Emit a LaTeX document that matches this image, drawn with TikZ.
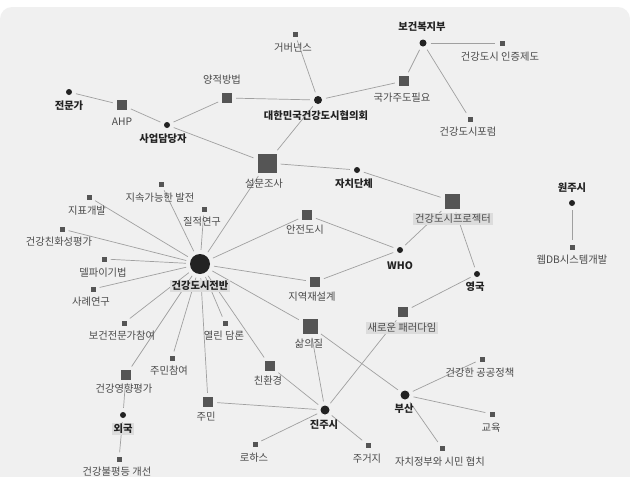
\documentclass[tikz,border=0pt]{standalone}
\usepackage{fontspec}
\setmainfont{Noto Sans CJK KR}
\pgfdeclarelayer{background}
\pgfsetlayers{background,main}
\definecolor{bgc}{HTML}{F0F0F0}
\definecolor{sqc}{HTML}{555555}
\definecolor{dotc}{HTML}{222222}
\definecolor{edgec}{HTML}{A0A0A0}
\definecolor{labc}{HTML}{4A4A4A}
\definecolor{blabc}{HTML}{222222}
\definecolor{hlc}{HTML}{DCDCDC}
\tikzset{
  sq/.style={rectangle,fill=sqc,inner sep=0pt,minimum size=#1},
  dt/.style={circle,fill=dotc,inner sep=0pt,minimum size=#1},
  lab/.style={font=\fontsize{10.3}{11}\selectfont,text=labc,inner sep=1pt},
  blab/.style={font=\fontsize{10.3}{11}\selectfont\bfseries,text=blabc,inner sep=1pt},
  hl/.style={fill=hlc,inner xsep=2pt,inner ysep=1.5pt},
  edge/.style={draw=edgec,line width=0.7pt,shorten >=4pt,shorten <=4pt},
}
\begin{document}
\begin{tikzpicture}[x=1pt,y=-1pt]
\useasboundingbox (0,0) rectangle (630,477);
% nodes
\node[dt=6] (jeonmunga) at (69,92) {};
\node[blab] (jeonmungaL) at (69,106) {전문가};
\node[sq=10] (ahp) at (122,105) {};
\node[lab] (ahpL) at (122,122) {AHP};
\node[dt=6] (saeop) at (167,125) {};
\node[blab] (saeopL) at (163,139) {사업담당자};
\node[sq=10] (yang) at (227,98) {};
\node[lab] (yangL) at (222,80) {양적방법};
\node[sq=5] (gov) at (295,34) {};
\node[lab] (govL) at (293,48) {거버넌스};
\node[dt=8] (hyeop) at (318,100) {};
\node[blab] (hyeopL) at (316,116) {대한민국건강도시협의회};
\node[dt=7] (bokji) at (423,43) {};
\node[blab] (bokjiL) at (422,27) {보건복지부};
\node[sq=5] (injeung) at (502,43) {};
\node[lab] (injeungL) at (500,57) {건강도시 인증제도};
\node[sq=10] (gukga) at (404,81) {};
\node[lab] (gukgaL) at (402,98) {국가주도필요};
\node[sq=5] (forum) at (470,119) {};
\node[lab] (forumL) at (468,132) {건강도시포럼};
\node[sq=19] (seolmun) at (267,163) {};
\node[lab] (seolmunL) at (264,184) {설문조사};
\node[dt=6] (jachi) at (357,170) {};
\node[blab] (jachiL) at (354,184) {자치단체};
\node[sq=15] (project) at (452,201) {};
\node[lab,hl] (projectL) at (453,219) {건강도시프로젝터};
\node[dt=6] (wonju) at (572,203) {};
\node[blab] (wonjuL) at (572,188) {원주시};
\node[sq=5] (webdb) at (572,247) {};
\node[lab] (webdbL) at (572,260) {웹DB시스템개발};
\node[dt=6] (who) at (400,250) {};
\node[blab] (whoL) at (400,266) {WHO};
\node[dt=6] (uk) at (477,274) {};
\node[blab] (ukL) at (475,287) {영국};
\node[sq=10] (safe) at (307,215) {};
\node[lab] (safeL) at (305,230) {안전도시};
\node[sq=10] (region) at (315,282) {};
\node[lab] (regionL) at (312,297) {지역재설계};
\node[sq=5] (sus) at (161,184) {};
\node[lab] (susL) at (160,198) {지속가능한 발전};
\node[sq=5] (jipyo) at (89,197) {};
\node[lab] (jipyoL) at (87,211) {지표개발};
\node[sq=5] (jiljeok) at (204,209) {};
\node[lab] (jiljeokL) at (202,222) {질적연구};
\node[sq=5] (chinhwa) at (62,229) {};
\node[lab] (chinhwaL) at (59,242) {건강친화성평가};
\node[sq=5] (delphi) at (104,259) {};
\node[lab] (delphiL) at (103,273) {델파이기법};
\node[sq=5] (case) at (93,289) {};
\node[lab] (caseL) at (91,302) {사례연구};
\node[dt=20] (center) at (200,264) {};
\node[blab,hl] (centerL) at (200,286) {건강도시전반};
\node[sq=5] (expert) at (124,323) {};
\node[lab] (expertL) at (122,336) {보건전문가참여};
\node[sq=5] (open) at (225,323) {};
\node[lab] (openL) at (224,336) {열린 담론};
\node[sq=5] (resid) at (172,358) {};
\node[lab] (residL) at (169,371) {주민참여};
\node[sq=10] (hia) at (126,375) {};
\node[lab] (hiaL) at (124,389) {건강영향평가};
\node[dt=6] (foreign) at (123,415) {};
\node[blab,hl] (foreignL) at (123,429) {외국};
\node[sq=5] (ineq) at (119,459) {};
\node[lab] (ineqL) at (117,472) {건강불평등 개선};
\node[sq=10] (jumin) at (208,402) {};
\node[lab] (juminL) at (206,417) {주민};
\node[sq=10] (eco) at (270,366) {};
\node[lab] (ecoL) at (268,381) {친환경};
\node[sq=15] (qol) at (310,326) {};
\node[lab] (qolL) at (309,344) {삶의질};
\node[sq=10] (paradigm) at (403,312) {};
\node[lab,hl] (paradigmL) at (402,328) {새로운 패러다임};
\node[dt=9] (jinju) at (325,410) {};
\node[blab] (jinjuL) at (324,425) {진주시};
\node[sq=5] (lohas) at (255,444) {};
\node[lab] (lohasL) at (254,458) {로하스};
\node[sq=5] (house) at (368,445) {};
\node[lab] (houseL) at (367,459) {주거지};
\node[dt=9] (busan) at (405,395) {};
\node[blab] (busanL) at (404,409) {부산};
\node[sq=5] (policy) at (482,359) {};
\node[lab] (policyL) at (480,373) {건강한 공공정책};
\node[sq=5] (edu) at (492,414) {};
\node[lab] (eduL) at (491,428) {교육};
\node[sq=5] (gov2) at (442,448) {};
\node[lab] (gov2L) at (440,462) {자치정부와 시민 협치};
\begin{pgfonlayer}{background}
\fill[white] (0,0) rectangle (630,477);
\fill[bgc,rounded corners=12pt] (0,7) rectangle (630,500);
% edges
\draw[edge] (jeonmunga) -- (ahp);
\draw[edge] (ahp) -- (saeop);
\draw[edge] (saeop) -- (yang);
\draw[edge] (saeop) -- (seolmun);
\draw[edge] (yang) -- (hyeop);
\draw[edge] (gov) -- (hyeop);
\draw[edge] (hyeop) -- (seolmun);
\draw[edge] (hyeop) -- (gukga);
\draw[edge] (gukga) -- (bokji);
\draw[edge] (bokji) -- (injeung);
\draw[edge] (bokji) -- (forum);
\draw[edge] (seolmun) -- (jachi);
\draw[edge] (jachi) -- (project);
\draw[edge] (seolmun) -- (center);
\draw[edge] (project) -- (who);
\draw[edge] (project) -- (uk);
\draw[edge] (wonju) -- (webdb);
\draw[edge] (safe) -- (center);
\draw[edge] (safe) -- (who);
\draw[edge] (who) -- (region);
\draw[edge] (region) -- (center);
\draw[edge] (uk) -- (paradigm);
\foreach \n in {jipyo,sus,jiljeok,chinhwa,delphi,case,expert,hia,resid,jumin,open,eco,qol}
  \draw[edge] (center) -- (\n);
\draw[edge] (hia) -- (foreign);
\draw[edge] (foreign) -- (ineq);
\draw[edge] (jumin) -- (jinju);
\draw[edge] (eco) -- (jinju);
\draw[edge] (qol) -- (jinju);
\draw[edge] (qol) -- (busan);
\draw[edge] (paradigm) -- (jinju);
\draw[edge] (jinju) -- (lohas);
\draw[edge] (jinju) -- (house);
\draw[edge] (busan) -- (policy);
\draw[edge] (busan) -- (edu);
\draw[edge] (busan) -- (gov2);
\end{pgfonlayer}
\end{tikzpicture}
\end{document}
